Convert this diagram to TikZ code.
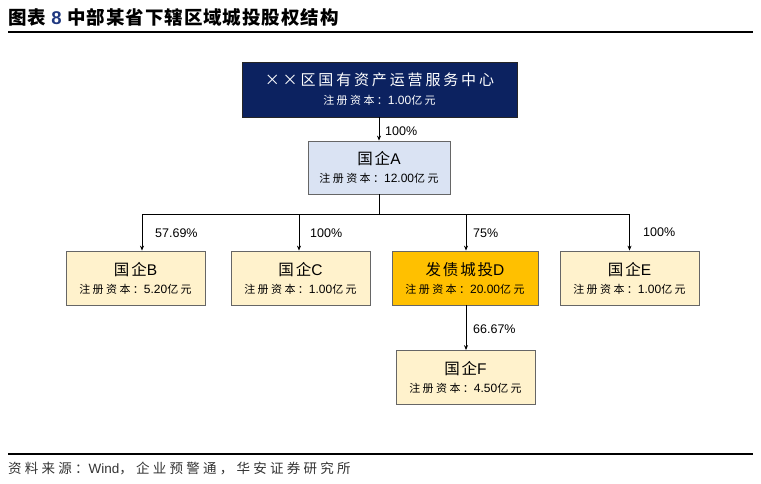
\documentclass[tikz,border=0pt]{standalone}
\usepackage{fontspec}
\setmainfont{Liberation Sans}
\newfontfamily\cjk{Noto Sans CJK SC}[LetterSpace=12]
\newfontfamily\cjkhead{Noto Sans CJK SC}[LetterSpace=5]
\newfontfamily\cjkcap{Noto Sans CJK SC}[LetterSpace=22]
\newfontfamily\cjknote{Noto Sans CJK SC}[LetterSpace=24]
\newfontfamily\cjkwide{Noto Sans CJK SC}[LetterSpace=19]
\usepackage{tikz}
\usetikzlibrary{positioning, arrows.meta}
\definecolor{hanavy}{RGB}{12, 34, 96}
\definecolor{hapale}{RGB}{218, 227, 243}
\definecolor{hacream}{RGB}{255, 242, 204}
\definecolor{haamber}{RGB}{255, 192, 0}
\definecolor{hatitle}{RGB}{31, 56, 128}
\newcommand\zh[1]{{\cjk #1}}
\newcommand\regcap[1]{{\fontsize{12}{14}\selectfont{\cjkcap\fontsize{11}{14}\selectfont 注册资本：}#1{\cjkcap\fontsize{11}{14}\selectfont 亿元}}}
\newcommand\firm[1]{{\fontsize{15.5}{18}\selectfont #1}}

\begin{document}
\begin{tikzpicture}[
  x=1pt, y=-1pt,
  font=\fontsize{12}{14}\selectfont,
  box/.style={
    draw=black!60, line width=0.8pt, align=center,
    minimum height=54pt, inner sep=2pt
  },
  topbox/.style={box, draw=black!85, fill=hanavy, text=white,
    minimum width=275pt, minimum height=55pt},
  parent/.style={box, fill=hapale, minimum width=142pt, minimum height=53pt},
  sub/.style={box, fill=hacream, minimum width=139pt},
  keysub/.style={sub, fill=haamber, minimum width=146pt},
  pct/.style={anchor=west, inner sep=0pt, font=\fontsize{12.5}{14}\selectfont},
  link/.style={line width=0.8pt},
  arr/.style={link, -{Stealth[length=5pt, width=4pt]}}
]
\useasboundingbox (0,0) rectangle (761,483);

% title and rules
\node[anchor=west, inner sep=0pt, font=\fontsize{18.5}{21}\selectfont\bfseries] (title) at (8,17)
  {{\cjkhead 图表} \textcolor{hatitle}{8}\hspace{6pt}{\cjkhead 中部某省下辖区域城投股权结构}};
\draw[line width=1.2pt] (8,32) -- (753,32);
\draw[line width=1.2pt] (8,454) -- (753,454);
\node[anchor=west, inner sep=0pt, text=black!80, font=\fontsize{13.5}{16}\selectfont] (source) at (8,468)
  {{\cjknote 资料来源：}Wind{\cjknote ，企业预警通，华安证券研究所}};

% boxes
\node[topbox] (center) at (379.5,89.5)
  {{\cjkwide\fontsize{15}{18}\selectfont ××区国有资产运营服务中心}\\[5pt]\regcap{1.00}};
\node[parent] (qiA) at (379,167.5) {\firm{\zh{国企}A}\\[4pt]\regcap{12.00}};
\node[sub] (qiB) at (135.5,278) {\firm{\zh{国企}B}\\[4pt]\regcap{5.20}};
\node[sub] (qiC) at (300.5,278) {\firm{\zh{国企}C}\\[4pt]\regcap{1.00}};
\node[keysub] (lgfvD) at (465,278) {\firm{\zh{发债城投}D}\\[4pt]\regcap{20.00}};
\node[sub] (qiE) at (629.5,278) {\firm{\zh{国企}E}\\[4pt]\regcap{1.00}};
\node[sub] (qiF) at (465.5,377.5) {\firm{\zh{国企}F}\\[4pt]\regcap{4.50}};

% connectors
\coordinate (split) at (379,214);
\draw[arr] (qiA.north |- center.south) -- (qiA.north);
\draw[link] (qiA.south) -- (split);
\draw[arr] (split) -| ([xshift=6.5pt]qiB.north);
\draw[arr] (split) -| ([xshift=-1.5pt]qiC.north);
\draw[arr] (split) -| ([xshift=1pt]lgfvD.north);
\draw[arr] (split) -| (qiE.north);
\draw[arr] ([xshift=1pt]lgfvD.south) -- ([xshift=0.5pt]qiF.north);

% shares
\node[pct] (pA) at (385,131) {100\%};
\node[pct] (pB) at (155,233) {57.69\%};
\node[pct] (pC) at (310,233) {100\%};
\node[pct] (pD) at (473,233) {75\%};
\node[pct] (pE) at (643,232) {100\%};
\node[pct] (pF) at (473,329) {66.67\%};
\end{tikzpicture}
\end{document}
